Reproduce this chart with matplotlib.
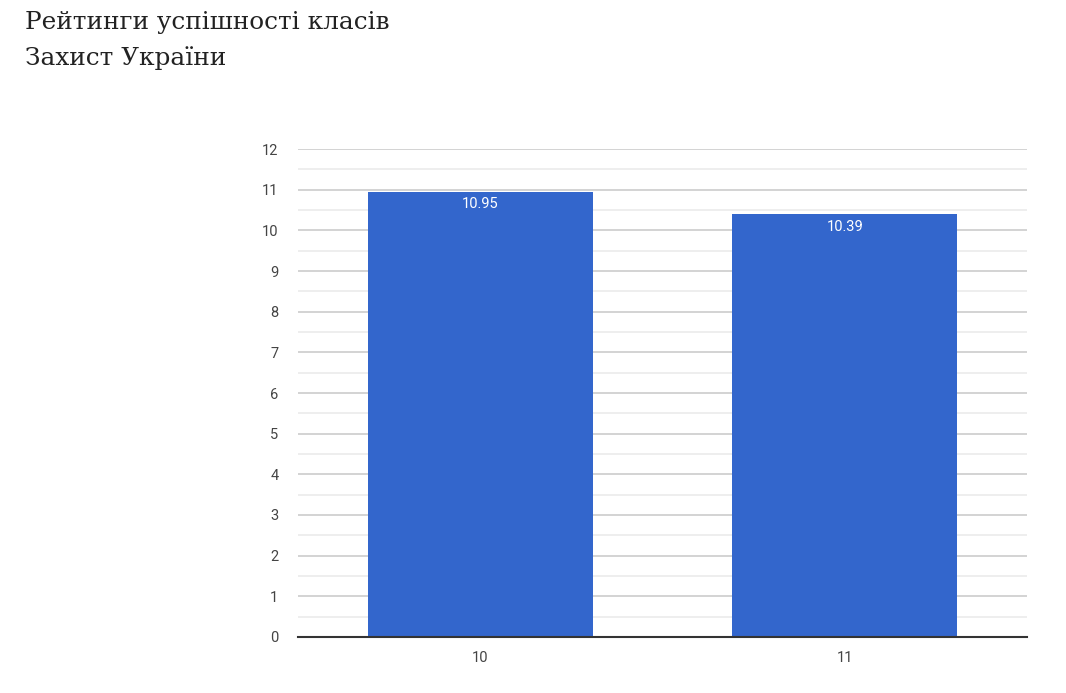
import matplotlib.pyplot as plt
import numpy as np

categories = ["10", "11"]
values = [10.95, 10.39]
title_lines = ["Рейтинги успішності класів", "Захист України"]

fig = plt.figure(figsize=(10.66, 6.93), dpi=100)
ax = fig.add_axes([298 / 1066, 1 - 637 / 693, (1027 - 298) / 1066, (637 - 149) / 693])

x = np.arange(len(categories))
bars = ax.bar(x, values, width=0.617, color="#3366cc", zorder=3)

for b, v in zip(bars, values):
    ax.annotate(f"{v:.2f}", (b.get_x() + b.get_width() / 2, v),
                xytext=(0, -4), textcoords="offset points",
                ha="center", va="top", color="white", fontsize=10.5,
                family="Roboto", zorder=4)

ax.set_xlim(-0.5, len(categories) - 0.5)
ax.set_ylim(0, 12)
ax.set_yticks(np.arange(0, 13, 1))
ax.set_yticks(np.arange(0.5, 12, 1), minor=True)
ax.set_xticks(x)
ax.set_xticklabels(categories)

ax.grid(axis="y", which="major", color="#cccccc", linewidth=1.2, zorder=0)
ax.grid(axis="y", which="minor", color="#ebebeb", linewidth=1.2, zorder=0)
ax.tick_params(axis="both", which="both", length=0, labelsize=10.5, labelcolor="#444444", pad=14)
ax.tick_params(axis="x", pad=10)
for lab in ax.get_xticklabels() + ax.get_yticklabels():
    lab.set_family("Roboto")

for s in ["top", "right", "left"]:
    ax.spines[s].set_visible(False)
ax.spines["bottom"].set_color("#333333")
ax.spines["bottom"].set_linewidth(1.5)
ax.spines["bottom"].set_zorder(5)

fig.text(25 / 1066, 1 - 22 / 693, title_lines[0], family="DejaVu Serif", fontsize=17.8,
         va="center", ha="left", color="#222222")
fig.text(25 / 1066, 1 - 58 / 693, title_lines[1], family="DejaVu Serif", fontsize=17.8,
         va="center", ha="left", color="#222222")

fig.savefig("out.png", dpi=100, facecolor="white")
